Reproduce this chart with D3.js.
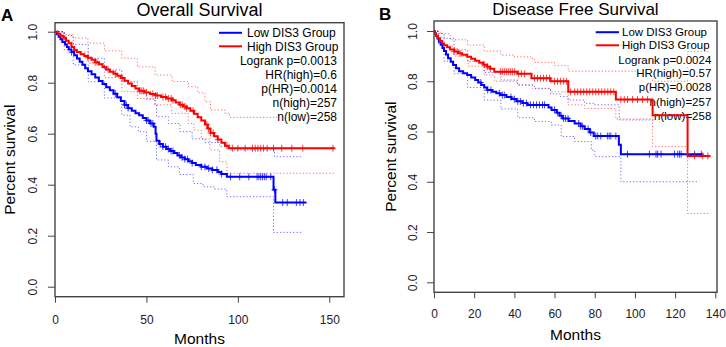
<!DOCTYPE html>
<html>
<head>
<meta charset="utf-8">
<script src="https://cdn.jsdelivr.net/npm/d3@7"></script>
<style>
  body { margin: 0; background: #fff; }
  svg { display: block; font-family: "Liberation Sans", Arial, sans-serif; }
</style>
</head>
<body>
<div id="chart"></div>
<script>
// tick values
var survTicks = [0, 0.2, 0.4, 0.6, 0.8, 1.0];
var osMonthTicks = [0, 50, 100, 150];
var dfsMonthTicks = [0, 20, 40, 60, 80, 100, 120, 140];

var groupNames = ["Low DIS3 Group", "High DIS3 Group"];
var osStats = ["Logrank p=0.0013", "HR(high)=0.6", "p(HR)=0.0014", "n(high)=257", "n(low)=258"];
var dfsStats = ["Logrank p=0.0024", "HR(high)=0.57", "p(HR)=0.0028", "n(high)=257", "n(low)=258"];

// Overall survival, [month, survival] steps, last pair = end of curve
var osHigh = [[0,1],[1.5,0.992],[3,0.984],[4.5,0.976],[6,0.965],[7.5,0.955],[9,0.94],[10.5,0.928],[12,0.92],[14,0.912],[16,0.905],[18,0.898],[20,0.89],[22,0.88],[24,0.872],[26,0.862],[28,0.852],[30,0.843],[32,0.835],[34,0.827],[36,0.818],[38,0.808],[40,0.797],[42,0.787],[44,0.777],[46,0.768],[49,0.762],[52,0.756],[55,0.75],[58,0.744],[61,0.738],[64,0.731],[66,0.722],[68,0.714],[70,0.707],[72,0.7],[74,0.69],[76,0.678],[78,0.665],[80,0.652],[82,0.636],[83.5,0.62],[85,0.603],[87,0.59],[89,0.577],[91,0.565],[93,0.553],[95,0.543],[153,0.543]];
var osLow = [[0,1],[1,0.99],[2,0.98],[3,0.97],[4,0.96],[5.5,0.95],[6.5,0.94],[7.5,0.93],[9,0.92],[10.5,0.908],[12,0.895],[13.5,0.882],[15,0.87],[16.5,0.857],[18,0.845],[20,0.833],[22,0.82],[24,0.807],[26,0.795],[28,0.782],[30,0.77],[32,0.757],[34,0.743],[36,0.728],[38,0.713],[40,0.7],[42,0.69],[44,0.68],[46,0.672],[48,0.662],[50,0.652],[52,0.64],[54,0.627],[55,0.6],[55.5,0.572],[57,0.56],[59,0.549],[61,0.54],[63,0.532],[65,0.524],[67,0.515],[69,0.507],[71,0.5],[73,0.492],[75,0.485],[77,0.477],[80,0.47],[83,0.464],[86,0.458],[89,0.45],[91,0.442],[94,0.431],[119.5,0.38],[120.5,0.33],[137.5,0.33]];
var osHighUpper = [[0,1],[5,0.99],[10,0.975],[18,0.955],[27,0.925],[36.5,0.896],[45,0.862],[54.7,0.83],[64,0.805],[73,0.784],[78,0.76],[82,0.725],[85,0.693],[93,0.68],[95.5,0.664],[153,0.664]];
var osHighLower = [[0,1],[5,0.96],[10,0.92],[18.2,0.876],[27,0.82],[36.5,0.765],[45,0.738],[54.7,0.713],[63.8,0.68],[72.9,0.64],[76,0.614],[80,0.58],[84.7,0.536],[90,0.49],[94,0.445],[153,0.445]];
var osLowUpper = [[0,1],[5,0.985],[10,0.95],[18.2,0.896],[27,0.85],[36.5,0.804],[45,0.76],[50,0.735],[54.7,0.713],[55.5,0.667],[62,0.64],[68.3,0.608],[75,0.58],[82,0.565],[90,0.55],[95.5,0.536],[120,0.51],[135.6,0.51]];
var osLowLower = [[0,1],[5,0.93],[10,0.87],[18.2,0.804],[27,0.74],[36.5,0.673],[41,0.627],[45.6,0.608],[50,0.57],[55.5,0.497],[62,0.47],[68,0.44],[75.6,0.405],[81,0.392],[87,0.383],[93.9,0.353],[119.5,0.213],[135,0.213]];
var osHighCensor = [18, 22, 23, 29, 33, 37, 46.5, 47.5, 48.5, 50, 53.5, 55, 56, 59, 60.5, 62, 63.5, 64.5, 68.5, 69.5, 71, 72, 75.5, 83, 84, 85, 86.5, 89, 94, 97, 100, 104, 108, 109.5, 111, 112.5, 114, 116, 119.5, 124, 129.5, 135.5, 152];
var osLowCensor = [9, 33, 38, 39, 40, 50, 51, 52.5, 53.5, 57.5, 59, 60.5, 62, 63.5, 64.5, 68, 69.5, 71, 72.5, 75, 80, 82, 84, 86, 88.5, 91, 96, 101, 106, 110.5, 111.5, 112.5, 113.5, 114.5, 115.5, 118, 120, 124.5, 127, 132, 134, 135.8];

// Disease free survival
var dfsHigh = [[0,1],[0.5,0.99],[1,0.98],[2,0.97],[3,0.96],[4,0.95],[5,0.943],[6.5,0.935],[8,0.926],[10,0.918],[12,0.911],[14,0.905],[16.5,0.898],[18.5,0.89],[20.5,0.882],[22.5,0.874],[24.5,0.866],[26.5,0.858],[28,0.85],[30,0.838],[41.5,0.83],[48.5,0.812],[58,0.80],[66.8,0.758],[90.5,0.727],[108.8,0.665],[126.2,0.503],[137.5,0.503]];
var dfsLow = [[0,1],[0.5,0.99],[1,0.98],[1.7,0.97],[2.5,0.957],[3.3,0.945],[4.2,0.932],[5,0.92],[6,0.906],[7,0.892],[8.3,0.878],[9.5,0.865],[11,0.852],[12.5,0.84],[14.5,0.832],[16.5,0.825],[18.5,0.815],[20.5,0.805],[22,0.795],[23.5,0.785],[25,0.775],[26.5,0.765],[29,0.758],[31,0.752],[33,0.745],[36,0.737],[38.5,0.729],[41,0.72],[44,0.713],[46.5,0.706],[57,0.696],[58.5,0.686],[61,0.675],[62.5,0.663],[64,0.652],[67,0.642],[70,0.632],[73,0.621],[75,0.61],[77.5,0.596],[79.5,0.582],[92,0.547],[93,0.51],[133.7,0.51]];
var dfsHighUpper = [[0,1],[3,0.99],[8,0.965],[16.7,0.944],[25,0.92],[33.3,0.904],[40,0.897],[48.3,0.891],[50,0.875],[60,0.862],[66.8,0.84],[108.8,0.80],[126.2,0.918],[137,0.918]];
var dfsHighLower = [[0,1],[2,0.975],[5,0.94],[10,0.9],[17,0.86],[25,0.825],[30,0.8],[41.5,0.785],[49,0.77],[58,0.758],[66.8,0.706],[75,0.692],[90.5,0.65],[108.8,0.54],[126.2,0.274],[137,0.274]];
var dfsLowUpper = [[0,1],[2,0.99],[5,0.971],[10,0.925],[16.7,0.878],[25,0.835],[33.3,0.805],[41.7,0.785],[50,0.772],[58,0.75],[63,0.739],[66.7,0.725],[75,0.712],[80,0.706],[92.2,0.646],[133,0.646]];
var dfsLowLower = [[0,1],[2,0.95],[5,0.88],[10,0.83],[16.7,0.775],[25,0.725],[33.3,0.69],[41.7,0.655],[50,0.64],[58.3,0.626],[63.3,0.58],[70,0.56],[78.3,0.526],[80,0.5],[93,0.40],[132,0.40]];
var dfsHighCensor = [10, 11.5, 13, 25, 26.5, 28, 33, 34, 35, 36, 37, 38, 39, 40, 42, 43.5, 45, 50, 51.5, 53, 54.5, 56, 57.5, 60, 61.5, 63, 64.5, 66, 68, 70, 71.5, 73, 74.5, 76, 77.5, 79, 80.5, 82, 83.5, 85, 86.5, 88, 89.5, 93, 94.7, 96.3, 98.8, 101.3, 103.8, 106.3, 129.7, 133.8, 136.3];
var dfsLowCensor = [23.3, 26.7, 28.3, 32.5, 34, 35, 38.3, 40, 41.7, 43, 44.5, 46, 48, 49.5, 51, 52.5, 54, 55, 60, 61.5, 63.3, 64.5, 65.5, 66.7, 72, 73, 74, 76.7, 78, 80.5, 81.5, 83, 86.3, 87.2, 88, 90.5, 96.3, 107.2, 110.5, 111.3, 113, 119.7, 121.3, 122.2, 123, 129.7, 133];

var RED = "#ff0000", BLUE = "#0000ff";

var svg = d3.select("#chart").append("svg")
  .attr("width", 726)
  .attr("height", 347);

var panels = [
  {
    letter: "A", letterX: 1, letterY: 21, title: "Overall Survival", titleSize: 18, titleY: 16,
    box: {l: 55, r: 344, t: 22.7, b: 296.7},
    xDomain: [0, 150], xRange: [55, 329.3], yRange: [286.7, 31.7],
    xTicks: osMonthTicks, xLabelY: 23, monthsY: 339, ylabX: 10, yTickX: -22,
    high: osHigh, low: osLow, highUp: osHighUpper, highLo: osHighLower, lowUp: osLowUpper, lowLo: osLowLower,
    highCens: osHighCensor, lowCens: osLowCensor,
    stats: osStats, legFont: 12, legLine: [219, 242], legText: 247, legRight: 337,
    legRows: [32.8, 46.3, 61, 75, 89, 103, 117]
  },
  {
    letter: "B", letterX: 379, letterY: 20, title: "Disease Free Survival", titleSize: 17, titleY: 15,
    box: {l: 434, r: 717, t: 21, b: 292.3},
    xDomain: [0, 140], xRange: [434, 715.3], yRange: [282.3, 31],
    xTicks: dfsMonthTicks, xLabelY: 21.7, monthsY: 335, ylabX: 390.5, yTickX: -21,
    high: dfsHigh, low: dfsLow, highUp: dfsHighUpper, highLo: dfsHighLower, lowUp: dfsLowUpper, lowLo: dfsLowLower,
    highCens: dfsHighCensor, lowCens: dfsLowCensor,
    stats: dfsStats, legFont: 11.5, legLine: [595.7, 619], legText: 622, legRight: 711.3,
    legRows: [32.2, 45.3, 59.7, 73, 87.3, 101.7, 116]
  }
];

var bisectT = d3.bisector(function(d) { return d[0]; }).right;

panels.forEach(function(p) {
  var g = svg.append("g");
  var x = d3.scaleLinear().domain(p.xDomain).range(p.xRange);
  var y = d3.scaleLinear().domain([0, 1]).range(p.yRange);
  var line = d3.line()
    .x(function(d) { return x(d[0]); })
    .y(function(d) { return y(d[1]); })
    .curve(d3.curveStepAfter);

  // confidence bands (dotted)
  [[p.highUp, RED], [p.highLo, RED], [p.lowUp, BLUE], [p.lowLo, BLUE]].forEach(function(c) {
    g.append("path")
      .attr("d", line(c[0]))
      .attr("fill", "none")
      .attr("stroke", c[1])
      .attr("stroke-opacity", 0.55)
      .attr("stroke-width", 1)
      .attr("stroke-dasharray", "1.3,2");
  });

  // legend text with white background
  var leg = g.append("g").attr("font-size", p.legFont + "px");
  var items = groupNames.map(function(n, i) { return {t: n, x: p.legText, anchor: "start", y: p.legRows[i]}; })
    .concat(p.stats.map(function(s, i) { return {t: s, x: p.legRight, anchor: "end", y: p.legRows[i + 2]}; }));
  items.forEach(function(it) {
    var t = leg.append("text")
      .attr("x", it.x).attr("y", it.y).attr("dy", "0.35em")
      .attr("text-anchor", it.anchor)
      .attr("fill", "#000")
      .text(it.t);
    var bb = t.node().getBBox();
    leg.insert("rect", function() { return t.node(); })
      .attr("x", bb.x).attr("width", bb.width)
      .attr("y", it.y - p.legFont * 0.45).attr("height", p.legFont * 0.9)
      .attr("fill", "#fff");
  });
  [BLUE, RED].forEach(function(col, i) {
    leg.append("line")
      .attr("x1", p.legLine[0]).attr("x2", p.legLine[1])
      .attr("y1", p.legRows[i]).attr("y2", p.legRows[i])
      .attr("stroke", col).attr("stroke-width", 2);
  });

  // survival curves
  [[p.low, BLUE, p.lowCens], [p.high, RED, p.highCens]].forEach(function(c) {
    g.append("path")
      .attr("d", line(c[0]))
      .attr("fill", "none")
      .attr("stroke", c[1])
      .attr("stroke-width", 2);
    var steps = c[0];
    g.selectAll(null)
      .data(c[2])
      .enter().append("path")
      .attr("d", function(t) {
        var s = steps[Math.max(0, bisectT(steps, t) - 1)][1];
        var cx = x(t), cy = y(s);
        return "M" + (cx - 3) + "," + cy + "h6M" + cx + "," + (cy - 3.5) + "v7";
      })
      .attr("stroke", c[1])
      .attr("stroke-opacity", 0.75)
      .attr("stroke-width", 1);
  });

  // box
  g.append("rect")
    .attr("x", p.box.l).attr("y", p.box.t)
    .attr("width", p.box.r - p.box.l).attr("height", p.box.b - p.box.t)
    .attr("fill", "none").attr("stroke", "#444").attr("stroke-width", 1.4);

  // x axis
  var xa = g.append("g")
    .attr("transform", "translate(0," + p.box.b + ")")
    .call(d3.axisBottom(x).tickValues(p.xTicks).tickSize(6).tickFormat(d3.format("d")));
  xa.select(".domain").remove();
  xa.selectAll(".tick line").attr("stroke", "#444");
  xa.selectAll(".tick text")
    .attr("y", p.xLabelY).attr("dy", "0.35em")
    .attr("font-size", "12px").attr("font-family", "Liberation Sans, Arial, sans-serif").attr("fill", "#222");

  // y axis
  var ya = g.append("g")
    .attr("transform", "translate(" + p.box.l + ",0)")
    .call(d3.axisLeft(y).tickValues(survTicks).tickSize(7).tickFormat(d3.format(".1f")));
  ya.select(".domain").remove();
  ya.selectAll(".tick line").attr("stroke", "#444");
  ya.selectAll(".tick text")
    .attr("x", null).attr("dy", "0.35em")
    .attr("transform", "translate(" + p.yTickX + ",0) rotate(-90)")
    .attr("text-anchor", "middle")
    .attr("font-size", "12px").attr("font-family", "Liberation Sans, Arial, sans-serif").attr("fill", "#222");

  // titles
  var mid = (p.box.l + p.box.r) / 2;
  g.append("text")
    .attr("x", mid).attr("y", p.titleY)
    .attr("text-anchor", "middle")
    .attr("font-size", p.titleSize + "px")
    .text(p.title);
  g.append("text")
    .attr("x", p.letterX).attr("y", p.letterY)
    .attr("font-size", "17px").attr("font-weight", "bold")
    .text(p.letter);
  g.append("text")
    .attr("x", mid).attr("y", p.monthsY).attr("dy", "0.35em")
    .attr("text-anchor", "middle")
    .attr("font-size", "15.5px")
    .text("Months");
  g.append("text")
    .attr("transform", "translate(" + p.ylabX + "," + ((p.box.t + p.box.b) / 2) + ") rotate(-90)")
    .attr("dy", "0.35em")
    .attr("text-anchor", "middle")
    .attr("font-size", "15.5px")
    .text("Percent survival");
});
</script>
</body>
</html>
